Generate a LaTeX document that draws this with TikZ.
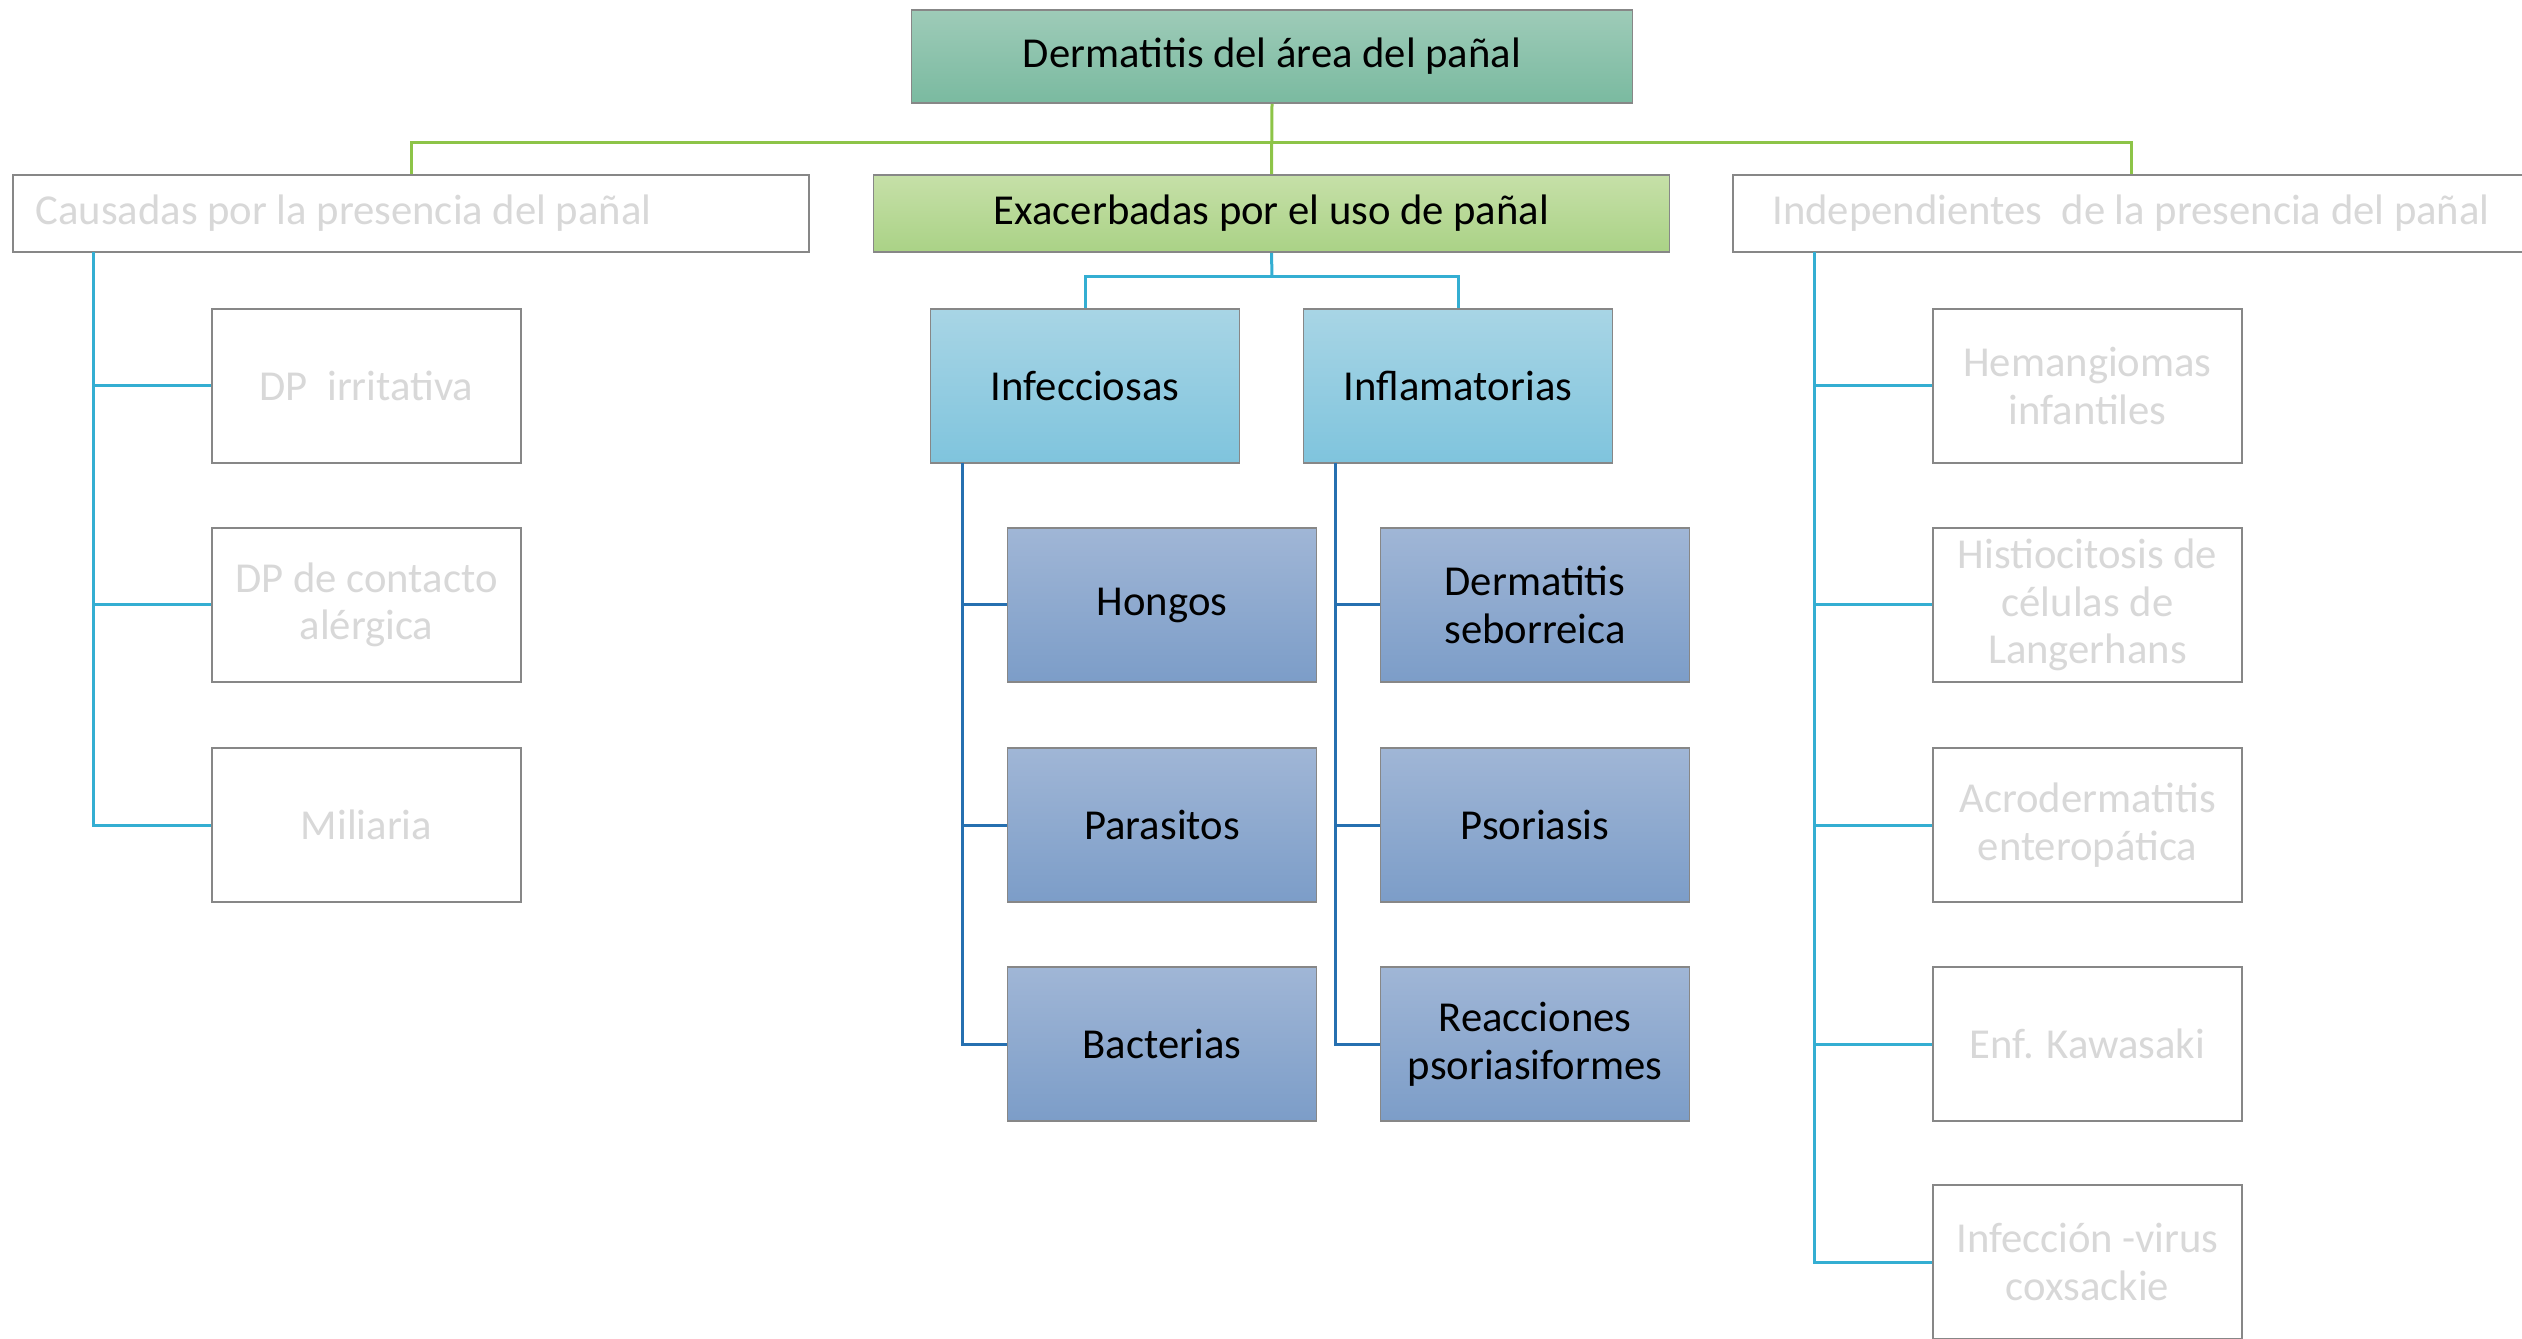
\documentclass[tikz,border=0pt]{standalone}
\usepackage{fontspec}
\setmainfont{Carlito}
\usepackage{tikz}
\usetikzlibrary{calc}

\definecolor{raizA}{RGB}{158,203,184}
\definecolor{raizB}{RGB}{122,186,160}
\definecolor{verdeA}{RGB}{198,224,168}
\definecolor{verdeB}{RGB}{170,210,134}
\definecolor{celesteA}{RGB}{168,213,229}
\definecolor{celesteB}{RGB}{127,196,221}
\definecolor{azulA}{RGB}{160,182,214}
\definecolor{azulB}{RGB}{124,157,200}
\definecolor{borde}{RGB}{135,135,135}
\definecolor{textogris}{RGB}{216,216,216}
\definecolor{lineaverde}{RGB}{141,196,72}
\definecolor{lineacian}{RGB}{52,174,210}
\definecolor{lineaazul}{RGB}{38,112,176}

\begin{document}
\begin{tikzpicture}[x=0.3pt,y=-0.3pt,
  every node/.style={draw=borde,line width=0.5pt,inner sep=0pt,align=center,
    font=\fontsize{12.8}{14.3}\selectfont},
  ancho/.style={minimum width=238.8pt,minimum height=23.1pt},
  caja/.style={minimum width=92.7pt,minimum height=46.2pt},
  raiz/.style={minimum width=216.3pt,minimum height=27.9pt,top color=raizA,bottom color=raizB},
  gris/.style={fill=white,text=textogris},
  verde/.style={top color=verdeA,bottom color=verdeB},
  celeste/.style={top color=celesteA,bottom color=celesteB},
  azul/.style={top color=azulA,bottom color=azulB},
  lv/.style={draw=lineaverde,line width=0.9pt},
  lc/.style={draw=lineacian,line width=0.9pt},
  la/.style={draw=lineaazul,line width=0.9pt}]
\clip (0,0) rectangle (2522,1339);

% nivel 1
\node (raiz) at (1272,56.5) [raiz] {Dermatitis del área del pañal};
\node (caus) at (411,213.5) [ancho,gris] {Causadas por la presencia del pañal\hspace*{40.5pt}};
\node (exac) at (1271.5,213.5) [ancho,verde] {Exacerbadas por el uso de pañal};
\node (inde) at (2131,213.5) [ancho,gris] {Independientes~ de la presencia del pañal};

% causadas
\node (c1) at (366.5,386) [caja,gris] {DP~ irritativa};
\node (c2) at (366.5,605) [caja,gris] {DP de contacto\\alérgica};
\node (c3) at (366.5,825) [caja,gris] {Miliaria};

% exacerbadas
\node (infe) at (1085,386) [caja,celeste] {Infecciosas};
\node (infl) at (1458,386) [caja,celeste] {Inflamatorias};
\node (e1) at (1162,605) [caja,azul] {Hongos};
\node (e2) at (1162,825) [caja,azul] {Parasitos};
\node (e3) at (1162,1044) [caja,azul] {Bacterias};
\node (f1) at (1535,605) [caja,azul] {Dermatitis\\seborreica};
\node (f2) at (1535,825) [caja,azul] {Psoriasis};
\node (f3) at (1535,1044) [caja,azul] {Reacciones\\psoriasiformes};

% independientes
\node (i1) at (2087.5,386) [caja,gris] {Hemangiomas\\infantiles};
\node (i2) at (2087.5,605) [caja,gris] {Histiocitosis de\\células de\\Langerhans};
\node (i3) at (2087.5,825) [caja,gris] {Acrodermatitis\\enteropática};
\node (i4) at (2087.5,1044) [caja,gris] {Enf. Kawasaki};
\node (i5) at (2087.5,1262) [caja,gris] {Infección -virus\\coxsackie};

% conectores
\coordinate (vbus) at (1272,143);
\draw[lv] (raiz.south) -- (exac.north);
\draw[lv] (caus.north) |- (vbus) -| (inde.north);

\coordinate (cbus) at (1272,277);
\draw[lc] (exac.south) -- (cbus);
\draw[lc] (infe.north) |- (cbus) -| (infl.north);

\coordinate (ct) at (93,252);
\foreach \n in {c1,c2,c3}
  \draw[lc] (ct) |- (\n.west);
\coordinate (it) at (1814,252);
\foreach \n in {i1,i2,i3,i4,i5}
  \draw[lc] (it) |- (\n.west);

\coordinate (et) at (962,463);
\foreach \n in {e1,e2,e3}
  \draw[la] (et) |- (\n.west);
\coordinate (ft) at (1335,463);
\foreach \n in {f1,f2,f3}
  \draw[la] (ft) |- (\n.west);
\end{tikzpicture}
\end{document}
